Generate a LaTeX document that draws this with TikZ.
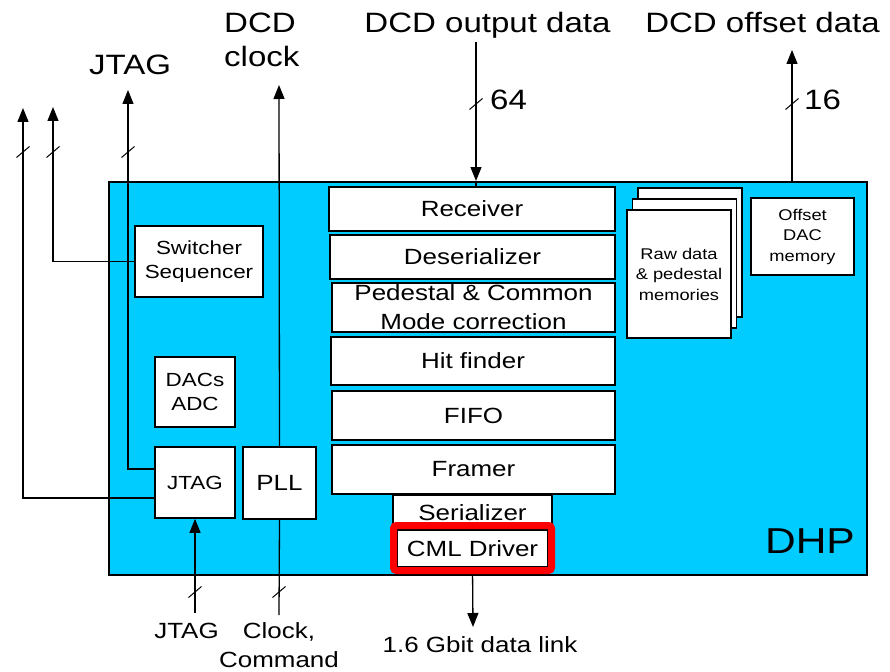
\documentclass[tikz,border=0pt]{standalone}
\usepackage{fontspec}
\setmainfont{Liberation Sans}[FakeStretch=1.18]
\usepackage{xcolor}
\definecolor{dhpblue}{RGB}{0,204,255}
\usetikzlibrary{arrows.meta,positioning}

\begin{document}
\begin{tikzpicture}[x=1pt,y=-1pt,
  blk/.style={draw,fill=white,line width=1.6pt,inner sep=0pt,align=center,
    font=\fontsize{22}{29}\selectfont},
  sml/.style={blk,font=\fontsize{19}{24}\selectfont},
  tny/.style={blk,font=\fontsize{15.5}{20.5}\selectfont},
  lbl/.style={font=\fontsize{28}{34}\selectfont,inner sep=0pt},
  mid/.style={font=\fontsize{22}{29}\selectfont,inner sep=0pt,align=center},
  arr/.style={-{Triangle[length=14pt,width=11pt]},line width=1.3pt},
  sig/.style={line width=1.3pt}]
  \def\bustick(#1,#2){\draw[line width=1pt] (#1,#2) ++(-6.5,5.5) -- ++(13,-11);}
  \useasboundingbox (0,0) rectangle (890,671);

  % chip outline
  \node[draw,fill=dhpblue,line width=1.6pt,minimum width=758,minimum height=393,
    anchor=north west] (dhp) at (108,181) {};
  \node[lbl,font=\fontsize{36}{40}\selectfont,anchor=base east] (dhplbl) at (855,553) {DHP};

  % data path
  \node[blk,minimum width=286,minimum height=44] (rec) at (472,209) {Receiver};
  \node[blk,minimum width=285,minimum height=44] (deser) at (472.5,257) {Deserializer};
  \node[blk,minimum width=283,minimum height=49] (ped) at (473.5,307.5) {Pedestal \& Common\\Mode correction};
  \node[blk,minimum width=284,minimum height=48] (hit) at (473,361) {Hit finder};
  \node[blk,minimum width=283,minimum height=49] (fifo) at (473.5,415.5) {FIFO};
  \node[blk,minimum width=283,minimum height=49] (framer) at (473.5,469.5) {Framer};
  \node[blk,minimum width=159,minimum height=36] (ser) at (472.5,513) {Serializer};
  \node[blk,minimum width=151,minimum height=37] (cml) at (472.5,548.5) {CML Driver};

  % slow control
  \node[sml,minimum width=128,minimum height=71] (sw) at (199,261.5) {Switcher\\Sequencer};
  \node[sml,minimum width=80,minimum height=70] (dacs) at (195,392) {DACs\\ADC};
  \node[sml,minimum width=80,minimum height=71] (jtag) at (195,482.5) {JTAG};
  \node[blk,minimum width=73,minimum height=72] (pll) at (279.5,483) {PLL};

  % memories
  \node[tny,minimum width=104,minimum height=129] (memc) at (690,252.5) {};
  \node[tny,minimum width=104,minimum height=129] (memb) at (684.5,263.5) {};
  \node[tny,minimum width=104,minimum height=128] (mema) at (679,274) {Raw data\\\& pedestal\\memories};
  \node[tny,minimum width=103,minimum height=77] (offs) at (802.5,236.5) {Offset\\DAC\\memory};

  % outside labels
  \node[lbl,anchor=base] (jtagout) at (130,75) {JTAG};
  \node[lbl,anchor=base west,align=left] (clkin) at (224,67) {DCD\\clock};
  \node[lbl,anchor=base] (dout) at (487.5,33) {DCD output data};
  \node[lbl,anchor=base] (doff) at (762.5,33) {DCD offset data};
  \node[lbl,anchor=base west] (w64) at (490,110) {64};
  \node[lbl,anchor=base west] (w16) at (804,110) {16};
  \node[mid,anchor=base] (jtagin) at (186.5,638) {JTAG};
  \node[mid,anchor=base] (cmdin) at (279,667) {Clock,\\Command};
  \node[mid,anchor=base] (link) at (480,652) {1.6 Gbit data link};

  % DCD data in and offsets out
  \coordinate (outtop) at (476,42);
  \draw[arr] (outtop) -- (outtop |- dhp.north);
  \draw[sig] (outtop |- dhp.north) -- (outtop |- rec.north);
  \bustick(476,104)
  \coordinate (offtop) at (792,50);
  \draw[arr] (offtop |- dhp.north) -- (offtop);
  \bustick(792,104)

  % JTAG chain and switcher control
  \coordinate (l1) at (23,108);
  \coordinate (l2) at (53,107);
  \coordinate (l3) at (128,90);
  \draw[arr] ([yshift=-15.5pt]jtag.west) -| (l1);
  \draw[arr] (sw.west) -| (l2);
  \draw[arr] ([yshift=13.5pt]jtag.west) -| (l3);
  \bustick(23,152)
  \bustick(53,152)
  \bustick(128,152)

  % clock and command
  \coordinate (clktop) at (279,85);
  \coordinate (clkbot) at (279,615);
  \draw[arr] (pll.north) -- (clktop);
  \draw[sig] (clkbot) -- (pll.south);
  \bustick(279,592)
  \coordinate (jtagbot) at (195,613);
  \draw[arr] (jtagbot) -- (jtag.south);
  \bustick(195,592)

  % serial link
  \coordinate (linkend) at (473,627);
  \draw[arr] (cml.south) -- (linkend);
  \node[draw=red,line width=7pt,rounded corners=3pt,minimum width=158,
    minimum height=45] (cmlmark) at (472.5,548) {};
\end{tikzpicture}
\end{document}
